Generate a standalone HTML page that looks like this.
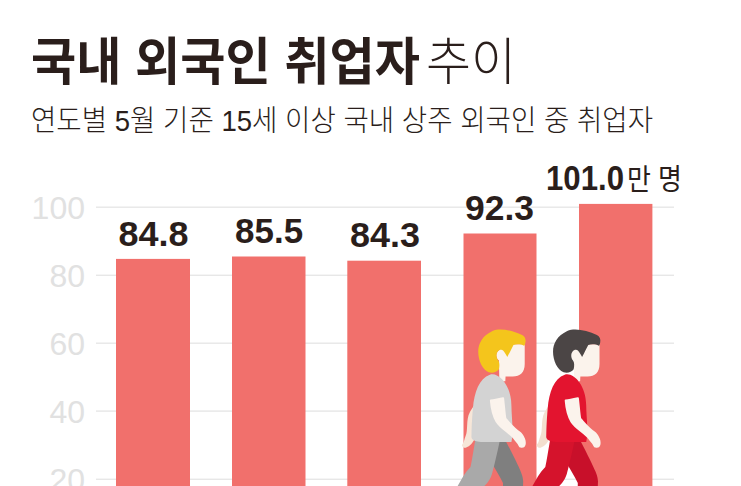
<!DOCTYPE html>
<html lang="ko"><head><meta charset="utf-8"><title>국내 외국인 취업자 추이</title>
<style>
html,body{margin:0;padding:0;background:#fff}
body{width:741px;height:486px;overflow:hidden;position:relative;font-family:"Liberation Sans",sans-serif}
svg{position:absolute;left:0;top:0;display:block}
.sr{position:absolute;left:0;top:0;width:1px;height:1px;margin:-1px;padding:0;overflow:hidden;clip:rect(0 0 0 0);clip-path:inset(50%);white-space:nowrap;border:0;color:transparent;font-size:1px}
</style></head><body>
<svg width="741" height="486" viewBox="0 0 741 486" role="img" aria-label="국내 외국인 취업자 추이 - 연도별 5월 기준 15세 이상 국내 상주 외국인 중 취업자">
<rect width="741" height="486" fill="#fff"/>
<g fill="#e7e7e7">
<rect x="96" y="206.5" width="578" height="1.4"/>
<rect x="96" y="274.6" width="578" height="1.4"/>
<rect x="96" y="342.5" width="578" height="1.4"/>
<rect x="96" y="410.4" width="578" height="1.4"/>
<rect x="96" y="478.6" width="578" height="1.4"/>
</g>
<g fill="#f1706c">
<rect x="116" y="258.9" width="74" height="227.1"><title>84.8만 명</title></rect>
<rect x="232" y="256.5" width="73.5" height="229.5"><title>85.5만 명</title></rect>
<rect x="347.3" y="260.7" width="73.7" height="225.3"><title>84.3만 명</title></rect>
<rect x="463.5" y="233.5" width="73" height="252.5"><title>92.3만 명</title></rect>
<rect x="579" y="203.9" width="73.4" height="282.1"><title>101.0만 명</title></rect>
</g>
<g fill="#2a1e1b" font-family="'Liberation Sans','Noto Sans CJK KR',sans-serif">
<text x="31" y="80" font-size="51" font-weight="bold" textLength="389" lengthAdjust="spacingAndGlyphs">국내 외국인 취업자</text>
<text x="426" y="80" font-size="51" font-weight="200" textLength="90" lengthAdjust="spacingAndGlyphs">추이</text>
<text x="31" y="131" font-size="29" font-weight="300" textLength="622" lengthAdjust="spacingAndGlyphs">연도별 5월 기준 15세 이상 국내 상주 외국인 중 취업자</text>
</g>
<g fill="#e1e1e1" font-family="'Liberation Sans',sans-serif" font-size="32" text-anchor="end">
<text x="85" y="219.2">100</text>
<text x="85" y="287.3">80</text>
<text x="85" y="355.2">60</text>
<text x="85" y="423.1">40</text>
<text x="85" y="491.3">20</text>
</g>
<text x="627" y="189.8" font-size="29" fill="#2a1e1b" font-family="'Liberation Sans','Noto Sans CJK KR',sans-serif" textLength="55" lengthAdjust="spacingAndGlyphs">만 명</text>
<g><title>걷는 사람</title>
<path fill="#f6e6d8" d="M498.2 400.7C492.3 405.7 478.9 415.8 478.6 416.9C477 423.3 474.7 430.5 475.3 434.9C475.8 438.2 472.9 441.7 471.9 443.2C470.5 445 466.9 447.9 464.7 447.7C463.3 447.6 461.1 445.5 462.2 444.4C464.5 442.3 464.1 439.1 465.5 436.3C468.3 430.5 465.8 419.6 469.7 412.5C471.3 409.5 474.3 403.6 487.5 392.5C490.7 395.4 498.2 400.7 498.2 400.7ZM498.2 400.7"/>
<g transform="translate(470.2 322) scale(0.12361)"><path fill="#fbf3ec" d="M441 200L441 340C441 408 404 441 344 441L286 441L284 480L236 480L232 300L232 180L441 180Z"/><path fill="#fbf3ec" d="M262 268C262 292 250 310 238 310C224 310 212 292 212 268C212 246 224 230 238 230C250 230 262 246 262 268Z"/><path fill="#f4c51c" d="M65 240C65 170 100 110 180 72C240 48 340 66 420 106C442 117 452 140 447 162C445 180 441 190 435 193C410 178 375 178 350 186C335 215 318 250 300 283C290 265 281 246 268 232C255 221 235 224 222 240C207 258 211 292 228 314C237 327 239 352 232 382C215 406 180 416 150 406C100 386 65 312 65 240Z"/></g>
<path fill="#7f7f7f" d="M515.3 525.3C522.1 526 525 523.8 524.3 522.7C523.3 521.2 523.4 520.2 523.3 519.3C522.1 503.9 523.2 481.5 523.2 481.5C523 479.3 522.8 476.4 520.8 471.7C515.9 459.8 496.5 423.3 496.5 423.3C493.2 417.2 486.6 415.1 481.8 418.6C476.9 422 476.4 427.4 479 435.8C483.9 451.6 497.2 471 503 482.9C502.7 496.2 505.6 507.1 505.4 519.8C505.4 521.6 508.6 524.6 515.3 525.3ZM515.3 525.3"/>
<path fill="#a9a9a9" d="M451.8 511C454 514.5 457.5 516.9 461 516.3C467.6 504.1 487.4 482.7 487.4 482.7C488.7 481.1 490.4 479 491.9 474.3C495.6 462.3 503.8 422.1 503.8 422.1C505.1 415.4 501.2 408.5 495.1 406.8C489 405.1 485.2 408.3 481.9 415.9C475.5 430.4 473.5 454.3 470.5 466.9C460.4 476.8 458.1 489.6 447.8 499.4C448.4 504.7 449.6 507.5 451.8 511ZM451.8 511"/>
<path fill="#d3d3d3" d="M471.5 437.2C471.5 437.2 471.5 442 483.1 442L511.4 442C513.8 432.5 511.6 418.2 511.4 405.2C511.2 384.5 498.1 371.8 489.9 374.7C479.2 378.5 474.3 391.5 472.9 408.5C471.5 423.8 471.5 437.2 471.5 437.2ZM471.5 437.2"/>
<path fill="#fbf3ec" stroke="#fbf3ec" stroke-width="2" stroke-linejoin="round" d="M503.1 398.3C504 405 504.8 418.1 505.7 419C510.2 423.9 515 429.7 519.1 432C522 433.7 523.5 437.5 524.1 439.1C524.9 441.1 525.3 445 523.8 446.3C522.9 447.1 519.8 447.1 519.6 445.8C519.1 443.1 516.2 441.4 514.6 438.8C511.3 433.6 500.6 428.5 496.7 421.8C495.1 419 491.9 413.6 490.9 400.6C494.8 400.1 503.1 398.3 503.1 398.3ZM503.1 398.3"/>
</g>
<g transform="translate(74.8 0)"><title>걷는 사람</title>
<path fill="#f3dfcf" d="M498.2 400.7C492.3 405.7 478.9 415.8 478.6 416.9C477 423.3 474.7 430.5 475.3 434.9C475.8 438.2 472.9 441.7 471.9 443.2C470.5 445 466.9 447.9 464.7 447.7C463.3 447.6 461.1 445.5 462.2 444.4C464.5 442.3 464.1 439.1 465.5 436.3C468.3 430.5 465.8 419.6 469.7 412.5C471.3 409.5 474.3 403.6 487.5 392.5C490.7 395.4 498.2 400.7 498.2 400.7ZM498.2 400.7"/>
<g transform="translate(470.2 322) scale(0.12361)"><path fill="#fbf3ec" d="M441 200L441 340C441 408 404 441 344 441L286 441L284 480L236 480L232 300L232 180L441 180Z"/><path fill="#fbf3ec" d="M262 268C262 292 250 310 238 310C224 310 212 292 212 268C212 246 224 230 238 230C250 230 262 246 262 268Z"/><path fill="#4b4545" d="M65 240C65 170 100 110 180 72C240 48 340 66 420 106C442 117 452 140 447 162C445 180 441 190 435 193C410 178 375 178 350 186C335 215 318 250 300 283C290 265 281 246 268 232C255 221 235 224 222 240C207 258 211 292 228 314C237 327 239 352 232 382C215 406 180 416 150 406C100 386 65 312 65 240Z"/></g>
<path fill="#c8102a" d="M515.3 525.3C522.1 526 525 523.8 524.3 522.7C523.3 521.2 523.4 520.2 523.3 519.3C522.1 503.9 523.2 481.5 523.2 481.5C523 479.3 522.8 476.4 520.8 471.7C515.9 459.8 496.5 423.3 496.5 423.3C493.2 417.2 486.6 415.1 481.8 418.6C476.9 422 476.4 427.4 479 435.8C483.9 451.6 497.2 471 503 482.9C502.7 496.2 505.6 507.1 505.4 519.8C505.4 521.6 508.6 524.6 515.3 525.3ZM515.3 525.3"/>
<path fill="#d5132c" d="M451.8 511C454 514.5 457.5 516.9 461 516.3C467.6 504.1 487.4 482.7 487.4 482.7C488.7 481.1 490.4 479 491.9 474.3C495.6 462.3 503.8 422.1 503.8 422.1C505.1 415.4 501.2 408.5 495.1 406.8C489 405.1 485.2 408.3 481.9 415.9C475.5 430.4 473.5 454.3 470.5 466.9C460.4 476.8 458.1 489.6 447.8 499.4C448.4 504.7 449.6 507.5 451.8 511ZM451.8 511"/>
<path fill="#e3142f" d="M471.5 437.2C471.5 437.2 471.5 442 483.1 442L511.4 442C513.8 432.5 511.6 418.2 511.4 405.2C511.2 384.5 498.1 371.8 489.9 374.7C479.2 378.5 474.3 391.5 472.9 408.5C471.5 423.8 471.5 437.2 471.5 437.2ZM471.5 437.2"/>
<path fill="#fbf3ec" stroke="#fbf3ec" stroke-width="2" stroke-linejoin="round" d="M503.1 398.3C504 405 504.8 418.1 505.7 419C510.2 423.9 515 429.7 519.1 432C522 433.7 523.5 437.5 524.1 439.1C524.9 441.1 525.3 445 523.8 446.3C522.9 447.1 519.8 447.1 519.6 445.8C519.1 443.1 516.2 441.4 514.6 438.8C511.3 433.6 500.6 428.5 496.7 421.8C495.1 419 491.9 413.6 490.9 400.6C494.8 400.1 503.1 398.3 503.1 398.3ZM503.1 398.3"/>
</g>
<g fill="#2a1e1b" font-family="'Liberation Sans',sans-serif" font-size="35" font-weight="bold">
<text x="153.5" y="245.8" text-anchor="middle" textLength="70" lengthAdjust="spacingAndGlyphs">84.8</text>
<text x="269.1" y="242.8" text-anchor="middle" textLength="68" lengthAdjust="spacingAndGlyphs">85.5</text>
<text x="385" y="246.8" text-anchor="middle" textLength="70" lengthAdjust="spacingAndGlyphs">84.3</text>
<text x="499.5" y="219.5" text-anchor="middle" textLength="69" lengthAdjust="spacingAndGlyphs">92.3</text>
<text x="546" y="189.8" textLength="78" lengthAdjust="spacingAndGlyphs">101.0</text>
</g>
</svg>
<div class="sr"><h1>국내 외국인 취업자 추이</h1><p>연도별 5월 기준 15세 이상 국내 상주 외국인 중 취업자</p><ul><li>84.8</li><li>85.5</li><li>84.3</li><li>92.3</li><li>101.0만 명</li></ul><p>100 80 60 40 20</p></div>
</body></html>
